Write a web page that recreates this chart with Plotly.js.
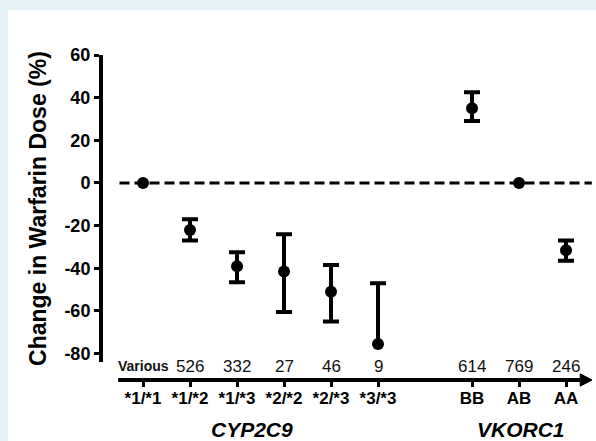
<!DOCTYPE html>
<html>
<head>
<meta charset="utf-8">
<script src="https://cdn.plot.ly/plotly-3.0.1.min.js"></script>
<style>html,body{margin:0;padding:0;background:#fff;}#chart{width:596px;height:441px;}</style>
</head>
<body>
<div id="chart"></div>
<script>
// ---- data ----
var genotypes = ['*1/*1', '*1/*2', '*1/*3', '*2/*2', '*2/*3', '*3/*3', 'BB', 'AB', 'AA'];
var positions = [0, 1, 2, 3, 4, 5, 7, 8, 9];
var counts = ['Various', '526', '332', '27', '46', '9', '614', '769', '246'];
var meanChange = [0, -22, -39, -41.5, -51, -75.5, 35, 0, -31.5];
var upperBound = [null, -17, -32.5, -24, -38.5, -47, 42.5, null, -27];
var lowerBound = [null, -27, -46.5, -60.5, -65, null, 29, null, -36.5];
var groupNames = ['CYP2C9', 'VKORC1'];
var groupCenters = [2.32, 8.05];
var yTicks = [-80, -60, -40, -20, 0, 20, 40, 60];
var yTickText = ['-80', '-60', '-40', '-20', '0', '20', '40', '60'];

var font = 'Arial, "Liberation Sans", sans-serif';

// full error bars (both ends known)
var plus = [], minus = [];
for (var i = 0; i < meanChange.length; i++) {
  if (upperBound[i] !== null && lowerBound[i] !== null) {
    plus.push(upperBound[i] - meanChange[i]);
    minus.push(meanChange[i] - lowerBound[i]);
  } else {
    plus.push(NaN); minus.push(NaN);
  }
}

var traces = [];
// one-sided bars (upper whisker only): stem + cap
for (var j = 0; j < meanChange.length; j++) {
  if (upperBound[j] !== null && lowerBound[j] === null) {
    traces.push({
      x: [positions[j], positions[j]], y: [upperBound[j], meanChange[j]],
      mode: 'lines', line: {color: '#000', width: 4}, showlegend: false, hoverinfo: 'skip'
    });
    traces.push({
      x: [positions[j]], y: [upperBound[j]], mode: 'markers',
      marker: {size: 1, opacity: 0}, showlegend: false, hoverinfo: 'skip',
      error_y: {type: 'data', symmetric: false, array: [0], arrayminus: [0],
                color: '#000', thickness: 4, width: 8}
    });
  }
}
traces.push({
  x: positions, y: meanChange, mode: 'markers', type: 'scatter',
  marker: {color: '#000', size: 12},
  error_y: {type: 'data', symmetric: false, array: plus, arrayminus: minus,
            color: '#000', thickness: 4, width: 8},
  showlegend: false, cliponaxis: false
});

var annotations = [];
for (var k = 0; k < counts.length; k++) {
  var isText = isNaN(+counts[k]);
  annotations.push({
    x: positions[k], xref: 'x', y: 0.043, yref: 'paper', text: counts[k],
    showarrow: false, xanchor: 'center', yanchor: 'middle',
    font: {family: font, size: isText ? 14 : 17, color: '#111', weight: isText ? 'bold' : 'normal'}
  });
}
for (var g = 0; g < groupNames.length; g++) {
  annotations.push({
    x: groupCenters[g], xref: 'x', y: -0.152, yref: 'paper',
    text: '<b><i>' + groupNames[g] + '</i></b>', showarrow: false,
    xanchor: 'center', yanchor: 'middle', borderpad: 0,
    font: {family: font, size: 21, color: '#000'}
  });
}

var shapes = [
  // page background frame
  {type: 'rect', xref: 'paper', yref: 'paper', x0: -0.187, x1: 1.01, y0: -0.19, y1: 1.138,
   fillcolor: '#fff', line: {width: 0}, layer: 'below'},
  // zero reference line
  {type: 'line', xref: 'x', yref: 'y', x0: -0.5, x1: 9.55, y0: 0, y1: 0,
   line: {color: '#000', width: 3, dash: '10px,5px'}, layer: 'below'},
  // x axis line
  {type: 'line', xref: 'x', yref: 'paper', x0: -0.53, x1: 9.3, y0: 0, y1: 0,
   line: {color: '#000', width: 4}},
  // arrow head
  {type: 'path', xref: 'paper', yref: 'paper',
   path: 'M 1.0 0 L 0.976 0.019 L 0.976 -0.019 Z', fillcolor: '#000', line: {color: '#000', width: 1}}
];

var layout = {
  width: 596, height: 441,
  paper_bgcolor: '#e4f2f6', plot_bgcolor: 'rgba(0,0,0,0)',
  margin: {l: 100, r: 4, t: 55, b: 61},
  font: {family: font, color: '#000'},
  xaxis: {
    range: [-0.915, 9.553], anchor: 'free', position: 0,
    showline: false, showgrid: false, zeroline: false,
    tickvals: positions, ticktext: genotypes,
    ticks: 'outside', ticklen: 6, tickwidth: 3, tickcolor: '#000',
    ticklabelstandoff: -3,
    tickfont: {family: font, size: 17, weight: 'bold', color: '#000'}
  },
  yaxis: {
    range: [-84, 60], domain: [0.055, 1], anchor: 'free', position: 0,
    showline: true, linewidth: 3.5, linecolor: '#000',
    showgrid: false, zeroline: false,
    tickvals: yTicks, ticktext: yTickText,
    ticks: 'outside', ticklen: 5, tickwidth: 3, tickcolor: '#000',
    tickfont: {family: font, size: 18, weight: 'bold', color: '#000'},
    title: {text: 'Change in Warfarin Dose (%)', standoff: 10,
            font: {family: font, size: 23, weight: 'bold', color: '#000'}}
  },
  shapes: shapes,
  annotations: annotations,
  showlegend: false
};

Plotly.newPlot('chart', traces, layout, {displayModeBar: false, staticPlot: true});
</script>
</body>
</html>
